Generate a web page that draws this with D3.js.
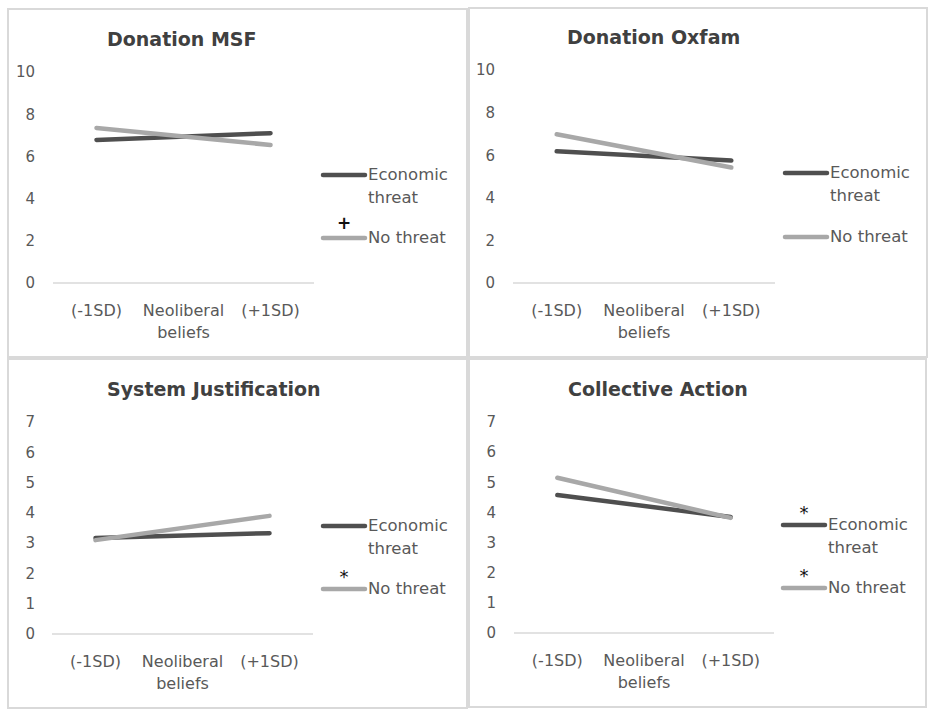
<!DOCTYPE html>
<html>
<head>
<meta charset="utf-8">
<script src="https://cdn.jsdelivr.net/npm/d3@7"></script>
<style>
  html, body { margin: 0; padding: 0; background: #fff; }
  svg { display: block; }
</style>
</head>
<body>
<svg id="chart" width="935" height="715"></svg>
<script>
// ---- Data ----
const categories = ["(-1SD)", "Neoliberal beliefs", "(+1SD)"];
const seriesNames = ["Economic threat", "No threat"];
const panelTitles = ["Donation MSF", "Donation Oxfam", "System Justification", "Collective Action"];

const msfEconomic = [6.78, null, 7.1];
const msfNoThreat = [7.35, null, 6.54];
const oxfamEconomic = [6.18, null, 5.75];
const oxfamNoThreat = [6.98, null, 5.42];
const sjEconomic = [3.17, null, 3.33];
const sjNoThreat = [3.1, null, 3.9];
const caEconomic = [4.58, null, 3.85];
const caNoThreat = [5.15, null, 3.82];

const ticks10 = [0, 2, 4, 6, 8, 10];
const ticks7 = [0, 1, 2, 3, 4, 5, 6, 7];

// significance marks per legend entry
const msfMarks = ["", "+"];
const oxfamMarks = ["", ""];
const sjMarks = ["", "*"];
const caMarks = ["*", "*"];

const panels = [
  { title: panelTitles[0], eco: msfEconomic, no: msfNoThreat, ticks: ticks10, max: 10, marks: msfMarks },
  { title: panelTitles[1], eco: oxfamEconomic, no: oxfamNoThreat, ticks: ticks10, max: 10, marks: oxfamMarks },
  { title: panelTitles[2], eco: sjEconomic, no: sjNoThreat, ticks: ticks7, max: 7, marks: sjMarks },
  { title: panelTitles[3], eco: caEconomic, no: caNoThreat, ticks: ticks7, max: 7, marks: caMarks }
];

// ---- Layout ----
const svg = d3.select("#chart");
const colors = ["#4f4f4f", "#a8a8a8"];
const font = "'DejaVu Sans', sans-serif";

const boxes = [
  { x: 8, y: 9, w: 459, h: 348 },
  { x: 469, y: 8, w: 458, h: 349 },
  { x: 8, y: 359, w: 459, h: 349 },
  { x: 469, y: 359, w: 457, h: 348 }
];

// plot geometry relative to box
const geo = [
  { axisX0: 45, axisX1: 306, yTop: 63, yBottom: 274, titleX: 99, titleY: 31, legX: 315, legY1: 166, legY2: 229, tickX: 27 },
  { axisX0: 44, axisX1: 306, yTop: 62, yBottom: 275, titleX: 98, titleY: 30, legX: 316, legY1: 165, legY2: 229, tickX: 26 },
  { axisX0: 44, axisX1: 305, yTop: 63, yBottom: 275, titleX: 99, titleY: 31, legX: 315, legY1: 167, legY2: 230, tickX: 27 },
  { axisX0: 45, axisX1: 305, yTop: 63, yBottom: 274, titleX: 99, titleY: 31, legX: 314, legY1: 166, legY2: 229, tickX: 27 }
];

panels.forEach((p, i) => {
  const b = boxes[i], g0 = geo[i];
  const g = svg.append("g").attr("transform", `translate(${b.x},${b.y})`);

  g.append("rect")
    .attr("x", 0).attr("y", 0).attr("width", b.w).attr("height", b.h)
    .attr("fill", "#fff").attr("stroke", "#d9d9d9").attr("stroke-width", 2);

  g.append("text")
    .attr("x", g0.titleX)
    .attr("y", g0.titleY)
    .attr("text-anchor", "start")
    .attr("dominant-baseline", "middle")
    .attr("font-family", font)
    .attr("font-weight", "bold")
    .attr("font-size", 19)
    .attr("fill", "#404040")
    .text(p.title);

  const x = d3.scalePoint().domain(categories).range([g0.axisX0, g0.axisX1]).padding(0.5);
  const y = d3.scaleLinear().domain([0, p.max]).range([g0.yBottom, g0.yTop]);

  // y axis tick labels (no axis line)
  const yAxis = d3.axisLeft(y).tickValues(p.ticks).tickFormat(d3.format("d")).tickSize(0).tickPadding(0);
  const yg = g.append("g").attr("transform", `translate(${g0.tickX},0)`).call(yAxis);
  yg.select(".domain").remove();
  yg.selectAll("text")
    .attr("font-family", font).attr("font-size", 15).attr("fill", "#595959");

  // x axis line
  const xAxis = d3.axisBottom(x).tickSize(0).tickPadding(0).tickFormat(() => "");
  const xg = g.append("g").attr("transform", `translate(0,${g0.yBottom})`).call(xAxis);
  xg.select(".domain").attr("d", `M${g0.axisX0},0H${g0.axisX1}`).attr("stroke", "#d9d9d9").attr("stroke-width", 1.5);

  // category labels
  categories.forEach(c => {
    const lines = c === "Neoliberal beliefs" ? ["Neoliberal", "beliefs"] : [c];
    const t = g.append("text")
      .attr("x", x(c)).attr("y", g0.yBottom + 33)
      .attr("text-anchor", "middle")
      .attr("font-family", font).attr("font-size", 16).attr("fill", "#595959");
    lines.forEach((l, k) => t.append("tspan").attr("x", x(c)).attr("dy", k === 0 ? 0 : 22).text(l));
  });

  // lines
  const line = d3.line()
    .defined(d => d.v != null)
    .x(d => x(d.c)).y(d => y(d.v));
  [p.eco, p.no].forEach((vals, s) => {
    const pts = categories.map((c, k) => ({ c, v: vals[k] })).filter(d => d.v != null);
    g.append("path")
      .datum(pts)
      .attr("d", line)
      .attr("fill", "none")
      .attr("stroke", colors[s])
      .attr("stroke-width", 4.5)
      .attr("stroke-linecap", "round");
  });

  // legend
  [g0.legY1, g0.legY2].forEach((ly, s) => {
    g.append("line")
      .attr("x1", g0.legX).attr("x2", g0.legX + 42)
      .attr("y1", ly).attr("y2", ly)
      .attr("stroke", colors[s]).attr("stroke-width", 4.5).attr("stroke-linecap", "round");
    const lines = s === 0 ? ["Economic", "threat"] : ["No threat"];
    const t = g.append("text")
      .attr("x", g0.legX + 45).attr("y", ly)
      .attr("dominant-baseline", "middle")
      .attr("font-family", font).attr("font-size", 16.5).attr("fill", "#595959");
    lines.forEach((l, k) => t.append("tspan").attr("x", g0.legX + 45).attr("dy", k === 0 ? 0 : 23).text(l));
    if (p.marks[s]) {
      const isStar = p.marks[s] === "*";
      g.append("text")
        .attr("x", g0.legX + 21).attr("y", ly - (isStar ? 6 : 9))
        .attr("text-anchor", "middle")
        .attr("font-family", font)
        .attr("font-weight", isStar ? "normal" : "bold")
        .attr("font-size", isStar ? 18 : 17)
        .attr("fill", "#111")
        .text(p.marks[s]);
    }
  });
});
</script>
</body>
</html>
